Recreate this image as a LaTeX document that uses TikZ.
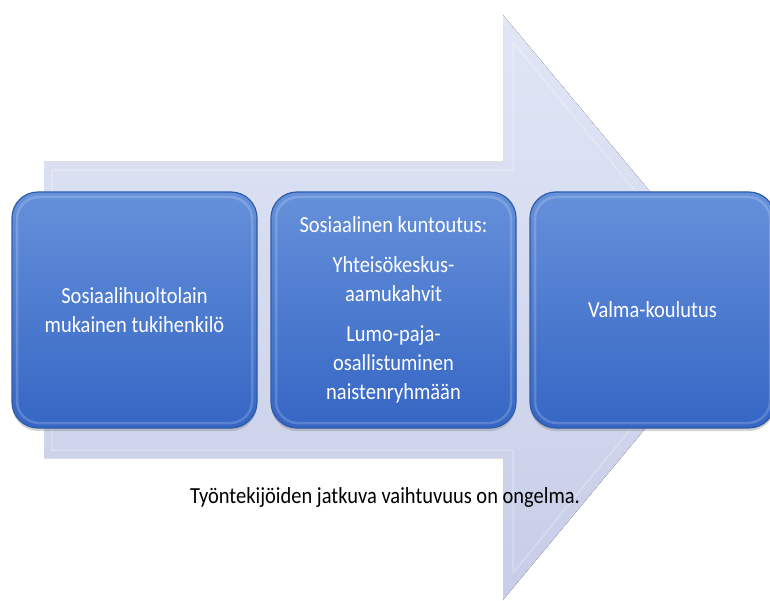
\documentclass[tikz,border=0pt]{standalone}
\usepackage{fontspec}
\setmainfont{Carlito}[FakeStretch=0.89]
\usetikzlibrary{shadows}
\definecolor{arrowtop}{HTML}{E1E6F6}
\definecolor{arrowbot}{HTML}{C7CDE7}
\definecolor{boxtop}{HTML}{6590DA}
\definecolor{boxbot}{HTML}{3566C4}
\definecolor{boxline}{HTML}{2E5BA9}
\tikzset{
  stepbox/.style={
    rounded corners=26pt, minimum width=245pt, minimum height=236pt,
    top color=boxtop, bottom color=boxbot, draw=boxline, line width=1.2pt,
    text=white, align=center, inner sep=4pt,
    font=\fontsize{23}{29}\selectfont,
    drop shadow={opacity=0.35, shadow xshift=0pt, shadow yshift=-3pt},
    path picture={
      \draw[white, opacity=0.18, line width=2.5pt, rounded corners=22pt]
        ([shift={(5pt,-5pt)}]path picture bounding box.north west) rectangle
        ([shift={(-5pt,5pt)}]path picture bounding box.south east);
    }
  },
  caption/.style={text=black, font=\fontsize{23}{29}\selectfont}
}
\begin{document}
\begin{tikzpicture}[x=1pt,y=-1pt]
\useasboundingbox (0,0) rectangle (770,601);
\clip (0,0) rectangle (770,601);
% big arrow
\fill[top color=arrowtop, bottom color=arrowbot]
  (44,162) -- (503,162) -- (503,15) -- (746,307) -- (503,600) -- (503,458) -- (44,458) -- cycle;
\draw[white, opacity=0.25, line width=1.5pt, line join=round]
  (52,170) -- (513,170) -- (513,42) -- (730,307) -- (513,573) -- (513,450) -- (52,450) -- cycle;
% boxes
\node[stepbox] (b1) at (134.5,310) {Sosiaalihuoltolain\\mukainen tukihenkilö};
\node[stepbox] (b2) at (393.5,310) {Sosiaalinen kuntoutus:\\[11pt]Yhteisökeskus-\\aamukahvit\\[11pt]Lumo-paja-\\osallistuminen\\naistenryhmään};
\node[stepbox] (b3) at (652.5,310) {Valma-koulutus};
% caption
\node[caption] (cap) at (385,497) {Työntekijöiden jatkuva vaihtuvuus on ongelma.};
\end{tikzpicture}
\end{document}
